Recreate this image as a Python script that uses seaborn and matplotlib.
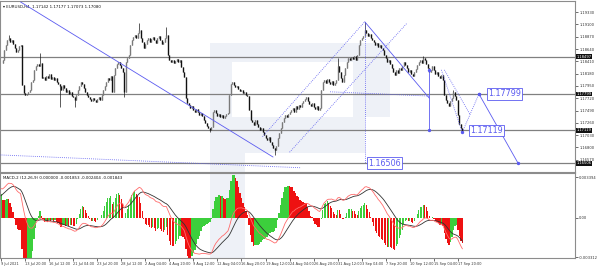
import numpy as np
import pandas as pd
import matplotlib
matplotlib.use("Agg")
import matplotlib.pyplot as plt
import seaborn as sns
from matplotlib.patches import Polygon

sns.set_theme(style="white")
plt.rcParams["font.family"] = ["DejaVu Sans"]

# ---------------- data ----------------
closes = [
    1.1838, 1.1844, 1.1862, 1.1872, 1.1881, 1.1885, 1.1877, 1.1881, 1.1873, 1.1866,
    1.1858, 1.1862, 1.1870, 1.1872, 1.1797, 1.1782, 1.1778, 1.1780, 1.1784, 1.1787,
    1.1802, 1.1806, 1.1825, 1.1832, 1.1836, 1.1832, 1.1838, 1.1810, 1.1812, 1.1806,
    1.1814, 1.1810, 1.1817, 1.1808, 1.1812, 1.1806, 1.1810, 1.1802, 1.1799, 1.1795,
    1.1787, 1.1797, 1.1791, 1.1784, 1.1787, 1.1780, 1.1784, 1.1776, 1.1774, 1.1769,
    1.1778, 1.1787, 1.1795, 1.1802, 1.1799, 1.1791, 1.1784, 1.1778, 1.1774, 1.1771,
    1.1767, 1.1772, 1.1769, 1.1765, 1.1771, 1.1774, 1.1769, 1.1778, 1.1787, 1.1795,
    1.1802, 1.1810, 1.1806, 1.1814, 1.1784, 1.1815, 1.1829, 1.1836, 1.1840, 1.1834,
    1.1829, 1.1821, 1.1784, 1.1840, 1.1847, 1.1853, 1.1872, 1.1881, 1.1887, 1.1890,
    1.1885, 1.1894, 1.1900, 1.1885, 1.1877, 1.1866, 1.1873, 1.1881, 1.1885, 1.1877,
    1.1883, 1.1887, 1.1881, 1.1875, 1.1885, 1.1888, 1.1881, 1.1873, 1.1877, 1.1885,
    1.1890, 1.1853, 1.1844, 1.1840, 1.1844, 1.1838, 1.1842, 1.1845, 1.1840, 1.1844,
    1.1830, 1.1821, 1.1812, 1.1772, 1.1763, 1.1759, 1.1754, 1.1757, 1.1750, 1.1746,
    1.1752, 1.1746, 1.1741, 1.1744, 1.1739, 1.1731, 1.1726, 1.1720, 1.1716, 1.1713,
    1.1718, 1.1746, 1.1750, 1.1744, 1.1739, 1.1742, 1.1737, 1.1741, 1.1735, 1.1739,
    1.1742, 1.1744, 1.1778, 1.1799, 1.1802, 1.1797, 1.1793, 1.1795, 1.1789, 1.1785,
    1.1787, 1.1782, 1.1784, 1.1778, 1.1776, 1.1750, 1.1731, 1.1728, 1.1722, 1.1731,
    1.1724, 1.1718, 1.1713, 1.1716, 1.1709, 1.1703, 1.1698, 1.1694, 1.1700, 1.1690,
    1.1685, 1.1679, 1.1675, 1.1683, 1.1698, 1.1707, 1.1716, 1.1728, 1.1735, 1.1741,
    1.1737, 1.1742, 1.1746, 1.1750, 1.1754, 1.1746, 1.1757, 1.1752, 1.1759, 1.1756,
    1.1763, 1.1767, 1.1771, 1.1774, 1.1767, 1.1761, 1.1757, 1.1763, 1.1756, 1.1752,
    1.1757, 1.1750, 1.1754, 1.1787, 1.1802, 1.1806, 1.1800, 1.1808, 1.1802, 1.1799,
    1.1804, 1.1797, 1.1800, 1.1806, 1.1832, 1.1821, 1.1810, 1.1802, 1.1815, 1.1829,
    1.1840, 1.1847, 1.1844, 1.1849, 1.1845, 1.1851, 1.1844, 1.1853, 1.1872, 1.1881,
    1.1885, 1.1888, 1.1900, 1.1894, 1.1888, 1.1892, 1.1885, 1.1881, 1.1877, 1.1872,
    1.1875, 1.1868, 1.1872, 1.1866, 1.1862, 1.1853, 1.1847, 1.1840, 1.1844, 1.1836,
    1.1829, 1.1821, 1.1815, 1.1825, 1.1819, 1.1829, 1.1825, 1.1832, 1.1840, 1.1834,
    1.1829, 1.1821, 1.1825, 1.1817, 1.1814, 1.1821, 1.1827, 1.1834, 1.1840, 1.1844,
    1.1838, 1.1847, 1.1844, 1.1836, 1.1829, 1.1821, 1.1825, 1.1832, 1.1825, 1.1817,
    1.1821, 1.1814, 1.1810, 1.1815, 1.1806, 1.1778, 1.1769, 1.1763, 1.1757, 1.1767,
    1.1772, 1.1784, 1.1776, 1.1769, 1.1741, 1.1724, 1.1716, 1.1709,
]
# notable wick extremes (bar index -> price)
wick_highs = {5: 1.1890, 26: 1.1857, 92: 1.1913, 110: 1.1905, 224: 1.1847,
              242: 1.1915, 281: 1.1851, 301: 1.1787}
wick_lows = {39: 1.1756, 49: 1.1756, 82: 1.1774, 139: 1.1709, 182: 1.1666,
             307: 1.1707}

x_label_bars = list(range(0, 305, 16))
x_labels = ["9 Jul 2021", "13 Jul 20:00", "16 Jul 12:00", "21 Jul 04:00",
            "23 Jul 20:00", "28 Jul 12:00", "2 Aug 04:00", "4 Aug 20:00",
            "9 Aug 12:00", "12 Aug 04:00", "16 Aug 20:00", "19 Aug 12:00",
            "24 Aug 04:00", "26 Aug 20:00", "31 Aug 12:00", "3 Sep 04:00",
            "7 Sep 20:00", "10 Sep 12:00", "15 Sep 04:00", "17 Sep 20:00"]

price_ticks = [1.19330, 1.19100, 1.18870, 1.18640, 1.18410, 1.18180, 1.17950,
               1.17720, 1.17490, 1.17260, 1.17030, 1.16800, 1.16570]
level_lines = [1.18497, 1.17799, 1.17119, 1.16506]
macd_ticks = [0.003394, 0.0, -0.003312]
macd_tick_labels = ["0.003394", "0.00", "-0.003312"]

title_text = "EURUSD,H4  1.17142 1.17177 1.17073 1.17080"
macd_text = "MACD-2 (12,26,9) 0.000000 -0.001853 -0.002404 -0.001843"

macd_fast, macd_slow, macd_sig = 12, 26, 9
ema_seed_fast, ema_seed_slow, sig_seed = 1.1822, 1.1797, 0.0017
hist_scale = 3.3   # histogram = scale * (MACD - signal), ratio

# analysis lines (bar, price)
trend_solid = [(13, 1.1952), (181, 1.1662)]
bottom_dotted = [(-1, 1.1666), (199, 1.1642)]
channel_a = [(174, 1.1700), (242, 1.1915)]
channel_b = [(192, 1.1671), (270, 1.1912)]
peak_vertical = [(242, 1.1915), (242, 1.16506)]
down_solid = [(242, 1.1915), (285, 1.1772)]
mid_dotted = [(219, 1.1784), (285, 1.1776)]
measure_vertical = [(285, 1.1825), (285, 1.17119)]
down_chan_a = [(293, 1.1825), (307, 1.1707)]
down_chan_b = [(295, 1.1825), (312, 1.1742)]
forecast_dotted = [(307, 1.1709), (318, 1.17799)]
forecast_solid = [(318, 1.17799), (344, 1.16506)]
box_labels = [(324, 1.17799, "1.17799"), (312, 1.17119, "1.17119"),
              (244, 1.16506, "1.16506")]

# ---------------- derived candle table ----------------
n = len(closes)
bars = np.arange(n)
opens = [closes[0]] + closes[:-1]
df = pd.DataFrame({"bar": bars, "open": opens, "close": closes})
df["high"] = df[["open", "close"]].max(axis=1)
df["low"] = df[["open", "close"]].min(axis=1)
for k, v in wick_highs.items():
    df.loc[k, "high"] = max(df.loc[k, "high"], v)
for k, v in wick_lows.items():
    df.loc[k, "low"] = min(df.loc[k, "low"], v)

# MACD indicator (main, signal, scaled oscillator histogram)
af, as_, asg = 2 / (macd_fast + 1), 2 / (macd_slow + 1), 2 / (macd_sig + 1)
ef, es, sg = ema_seed_fast, ema_seed_slow, sig_seed
macd, sig = [], []
for c in closes:
    ef = ef + af * (c - ef)
    es = es + as_ * (c - es)
    m = ef - es
    sg = sg + asg * (m - sg)
    macd.append(m)
    sig.append(sg)
df["macd"] = macd
df["signal"] = sig
df["hist"] = hist_scale * (df["macd"] - df["signal"])
df["rising"] = df["hist"].diff().fillna(0) >= 0

# ---------------- figure ----------------
W, H = 600, 269
fig = plt.figure(figsize=(6.0, 2.69), dpi=100)
fig.patch.set_facecolor("white")

# background axes for the watermark (light R logo)
bg = fig.add_axes([0, 0, 1, 1], zorder=-10)
bg.set_xlim(0, W)
bg.set_ylim(H, 0)
bg.axis("off")
wm_color = "#eef1f7"
outer = [(210, 43), (390, 43), (390, 117), (365, 117), (365, 153),
         (245, 153), (245, 258), (210, 258)]
bg.add_patch(Polygon(outer, closed=True, facecolor=wm_color, edgecolor="none"))
hole = [(232, 62), (353, 62), (353, 117), (232, 117)]
bg.add_patch(Polygon(hole, closed=True, facecolor="white", edgecolor="none"))

x0 = -0.67
x1 = (575 - 1) / 1.503
ax = fig.add_axes([0, (H - 172) / H, 575 / W, 171 / H], zorder=1)
axm = fig.add_axes([0, (H - 258) / H, 575 / W, 85 / H], sharex=ax, zorder=1)
for a in (ax, axm):
    a.patch.set_alpha(0)
    for s in a.spines.values():
        s.set_color("#8c8c8c")
        s.set_linewidth(0.8)

ax.set_xlim(x0, x1)
ax.set_ylim(1.16340, 1.19538)

# horizontal levels
for lv in level_lines:
    ax.axhline(lv, color="#808080", lw=0.9, zorder=1)

# candles
ax.vlines(df["bar"], df["low"], df["high"], color="#1a1a1a", lw=0.5, zorder=3)
up = df["close"] >= df["open"]
ax.vlines(df.loc[up, "bar"], df.loc[up, "open"], df.loc[up, "close"],
          color="#7a7a7a", lw=1.0, zorder=3)
ax.vlines(df.loc[~up, "bar"], df.loc[~up, "close"], df.loc[~up, "open"],
          color="#111111", lw=1.0, zorder=3)

blue = "#5b5bf0"
dot = (0, (1, 1.5))
def seg(pts, **kw):
    xs, ys = zip(*pts)
    ax.plot(xs, ys, color=blue, zorder=4, **kw)

seg(trend_solid, lw=0.6)
seg(bottom_dotted, lw=0.6, ls=dot)
seg(channel_a, lw=0.6, ls=dot)
seg(channel_b, lw=0.6, ls=dot)
seg(peak_vertical, lw=0.6, ls=dot)
seg(down_solid, lw=0.6)
seg(mid_dotted, lw=0.6, ls=dot)
seg(measure_vertical, lw=0.6)
seg(down_chan_a, lw=0.6, ls=dot)
seg(down_chan_b, lw=0.6, ls=dot)
seg(forecast_dotted, lw=0.6, ls=dot)
seg(forecast_solid, lw=0.6)
for pts in (measure_vertical, forecast_dotted, forecast_solid):
    xs, ys = zip(*pts)
    ax.scatter(xs, ys, s=2, color=blue, zorder=5)

for bx, by, t in box_labels:
    ax.text(bx, by, t, fontsize=5.8, color=blue, va="center", ha="left", zorder=6,
            bbox=dict(boxstyle="square,pad=0.15", fc="white", ec=blue, lw=0.6))

# price axis on right
small = dict(family=["DejaVu Sans"], stretch="condensed")
ax.yaxis.tick_right()
ax.set_yticks(price_ticks)
ax.set_yticklabels([f"{t:.5f}" for t in price_ticks], **small)
ax.tick_params(axis="y", labelsize=3.0, length=2, width=0.5, pad=1,
               colors="#333333", right=True)
ax.tick_params(axis="x", bottom=False, labelbottom=False)
for lv in level_lines:
    ax.text(1.003, lv, f"{lv:.5f}", transform=ax.get_yaxis_transform(),
            fontsize=3.0, color="white", va="center", ha="left", zorder=7,
            bbox=dict(boxstyle="square,pad=0.1", fc="#111111", ec="none"), **small)
ax.text(0.005, 0.975, "\u25be " + title_text, transform=ax.transAxes,
        fontsize=3.2, color="#111111", va="top", ha="left", **small)

# MACD panel
bar_colors = np.where(df["rising"], "#3ccf3c", "#ee1111")
axm.bar(df["bar"], df["hist"], width=0.85, color=bar_colors, linewidth=0, zorder=2)
sns.lineplot(x=df["bar"], y=df["signal"], ax=axm, color="#333333", lw=0.6, zorder=3)
sns.lineplot(x=df["bar"], y=df["macd"], ax=axm, color="#ff6b6b", lw=0.6, zorder=3)
axm.set_ylim(-0.003312 - 0.00005, 0.00375)
axm.set_xlim(x0, x1)
axm.set_xlabel("")
axm.set_ylabel("")
axm.yaxis.tick_right()
axm.set_yticks(macd_ticks)
axm.set_yticklabels(macd_tick_labels, **small)
axm.tick_params(axis="y", labelsize=3.0, length=2, width=0.5, pad=1,
                colors="#333333", right=True, left=False)
axm.set_xticks(x_label_bars)
axm.set_xticklabels(x_labels, ha="left", **small)
axm.tick_params(axis="x", labelsize=2.8, length=2, width=0.5, pad=1,
                colors="#333333", bottom=True)
axm.text(0.005, 0.96, macd_text, transform=axm.transAxes, fontsize=3.2,
         color="#111111", va="top", ha="left", **small)

fig.savefig("out.png", dpi=100, facecolor="white")
